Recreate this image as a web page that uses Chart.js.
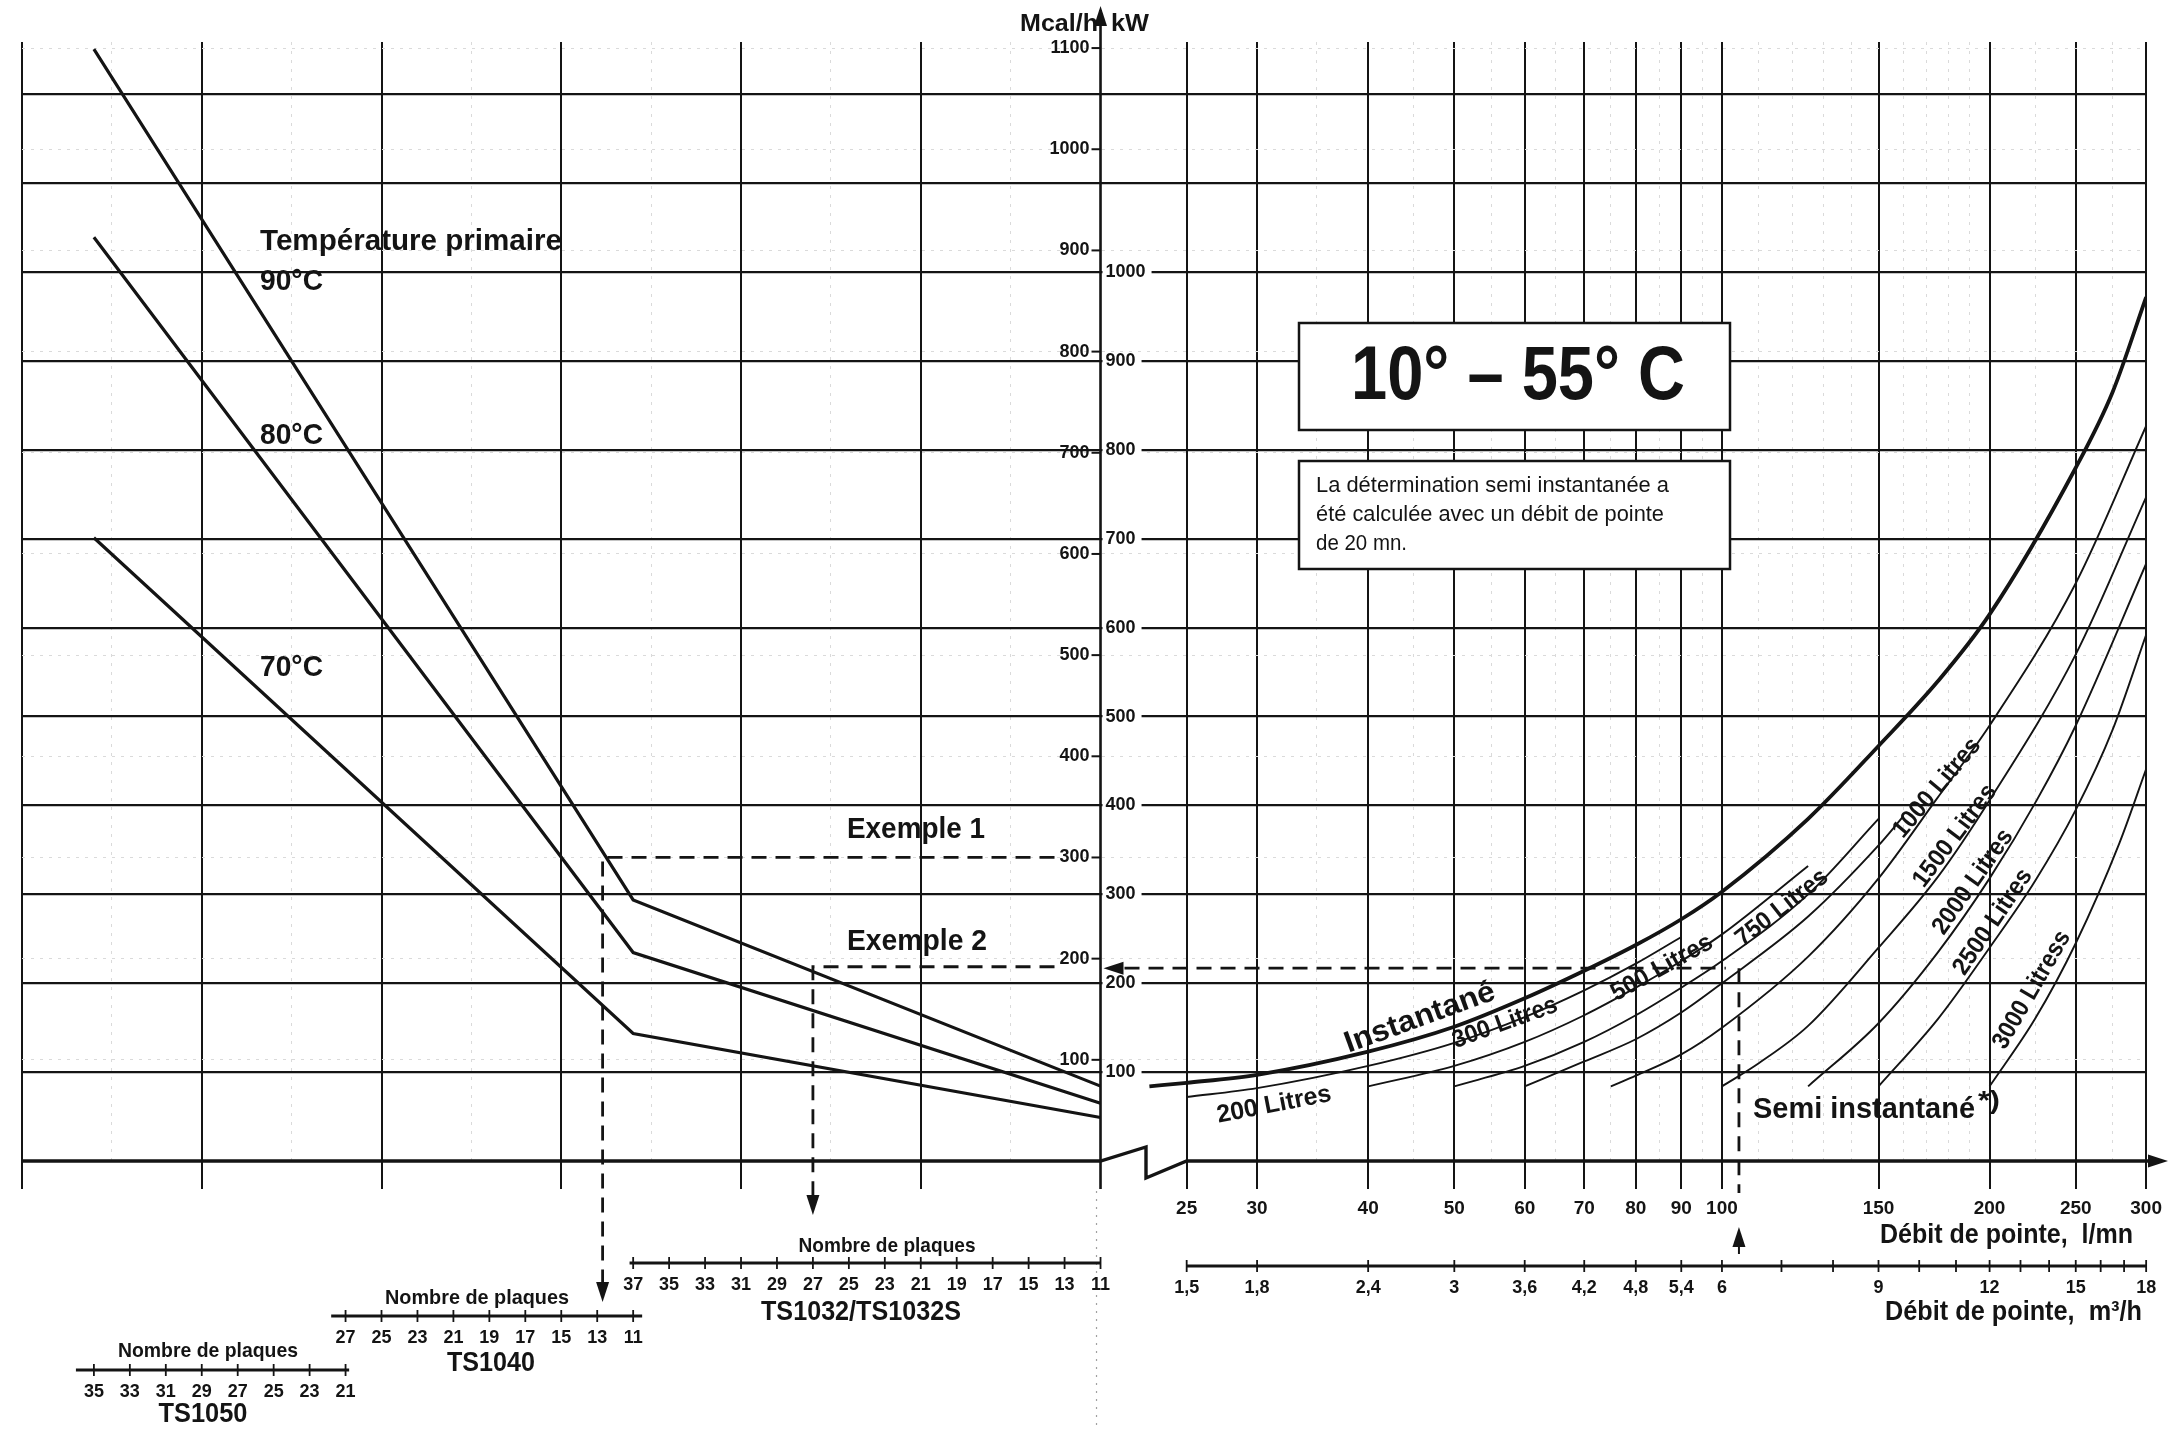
<!DOCTYPE html>
<html lang="fr">
<head>
<meta charset="utf-8">
<title>Abaque 10° – 55° C</title>
<script src="https://cdn.jsdelivr.net/npm/chart.js@4.4.1/dist/chart.umd.min.js"></script>
<style>
  html, body { margin: 0; padding: 0; background: #fff; }
  #wrap { position: relative; width: 2170px; height: 1432px; }
  canvas { display: block; }
</style>
</head>
<body>
<div id="wrap"><canvas id="abaque" width="2170" height="1432"></canvas></div>
<script>
// --- côté gauche : abscisse en plaques TS1032 (11 = axe central), ordonnée en Mcal/h
const primU = [67, 37, 11];
const prim90 = [1099, 258, 74];
const prim80 = [913, 206, 57];
const prim70 = [616, 126, 43];

const gridU = [21, 31, 41, 51, 61, 71];
const fineU = [16, 26, 36, 46, 56, 66];

const ts1032 = [37, 35, 33, 31, 29, 27, 25, 23, 21, 19, 17, 15, 13, 11];
const ts1040 = [27, 25, 23, 21, 19, 17, 15, 13, 11];
const ts1050 = [35, 33, 31, 29, 27, 25, 23, 21];

const mcalTicks = [100, 200, 300, 400, 500, 600, 700, 800, 900, 1000, 1100];
const kwTicks = [100, 200, 300, 400, 500, 600, 700, 800, 900, 1000];
const kwGrid = [0, 100, 200, 300, 400, 500, 600, 700, 800, 900, 1000, 1100, 1200];

// --- côté droit : débit de pointe (l/mn, échelle log), puissance en kW
const debitLmn = [25, 30, 40, 50, 60, 70, 80, 90, 100, 150, 200, 250, 300];
const debitM3h = ['1,5', '1,8', '2,4', '3', '3,6', '4,2', '4,8', '5,4', '6', '9', '12', '15', '18'];
const m3hFine = [7, 8, 10, 11, 13, 14, 16, 17];
const debitFine = [35, 45, 55, 65, 75, 85, 95, 110, 120, 130, 140, 160, 170, 180, 190, 225, 275];

const instQ = [22.7, 25, 30, 40, 50, 60, 70, 80, 90, 100, 125, 150, 175, 200, 250, 275, 300];
const instKW = [84, 88, 97, 123, 151, 183, 214, 243, 272, 303, 385, 467, 540, 615, 780, 865, 972];

const q200 = [25, 30, 40, 50, 60, 70, 80, 90];
const p200 = [72, 82, 107, 133, 162, 192, 222, 252];
const q300 = [40, 50, 60, 70, 80, 90, 100, 125];
const p300 = [84, 107, 134, 164, 195, 225, 255, 332];
const q500 = [50, 60, 70, 80, 90, 100, 125, 150];
const p500 = [84, 107, 134, 164, 195, 225, 300, 385];
const q750 = [60, 70, 80, 90, 100, 125, 150, 160];
const p750 = [84, 112, 137, 167, 200, 275, 355, 388];
const q1000 = [75, 80, 90, 100, 125, 150, 174, 200, 250, 300];
const p1000 = [84, 96, 120, 150, 230, 318, 406, 490, 650, 827];
const q1500 = [100, 110, 125, 150, 175, 200, 250, 300];
const p1500 = [84, 110, 152, 240, 320, 406, 570, 747];
const q2000 = [125, 150, 175, 200, 226, 250, 300];
const p2000 = [84, 155, 235, 318, 406, 490, 672];
const q2500 = [150, 175, 200, 225, 250, 275, 300];
const p2500 = [84, 160, 240, 315, 395, 485, 592];
const q3000 = [200, 225, 250, 280, 300];
const p3000 = [84, 160, 245, 358, 441];

const exemple1 = { u: 38.7, mcal: 300 };
const exemple2 = { u: 27, mcal: 192, q: 104.5, qStop: 101, kw: 217 };

const INK = '#141414';
const FAINT = '#dadada';
const FONT = '"Liberation Sans", Arial, Helvetica, sans-serif';

const pts = (xs, ys) => xs.map((x, i) => ({ x, y: ys[i] }));
const setTicks = (vals) => (scale) => { scale.ticks = vals.map((v) => ({ value: v })); };
const fixHeight = (h) => (scale) => { scale.height = h; };
const noWidth = (scale) => { scale.width = 0; };

const leftLine = (vals) => ({
  data: pts(primU, vals), xAxisID: 'xl', yAxisID: 'yM',
  borderColor: INK, borderWidth: 3.2, pointRadius: 0, tension: 0
});
const rightLine = (qs, ps, width) => ({
  data: pts(qs, ps), xAxisID: 'xr', yAxisID: 'y',
  borderColor: INK, borderWidth: width, pointRadius: 0, cubicInterpolationMode: 'monotone'
});

function fitText(ctx, text, x, y, w, size, opts = {}) {
  const { weight = 'bold', align = 'left', angle = 0 } = opts;
  ctx.save();
  ctx.font = `${weight} ${size}px ${FONT}`;
  const m = ctx.measureText(text).width;
  ctx.translate(x, y);
  if (angle) ctx.rotate(angle * Math.PI / 180);
  ctx.scale(w / m, 1);
  ctx.textAlign = align;
  ctx.textBaseline = 'middle';
  ctx.fillStyle = INK;
  ctx.fillText(text, 0, 0);
  ctx.restore();
}

function arrow(ctx, x, y, dir) {
  // pointe en (x, y)
  const L = 20, H = 6.5;
  ctx.beginPath();
  ctx.moveTo(x, y);
  if (dir === 'down') { ctx.lineTo(x - H, y - L); ctx.lineTo(x + H, y - L); }
  if (dir === 'up') { ctx.lineTo(x - H, y + L); ctx.lineTo(x + H, y + L); }
  if (dir === 'left') { ctx.lineTo(x + L, y - H); ctx.lineTo(x + L, y + H); }
  if (dir === 'right') { ctx.lineTo(x - L, y - H); ctx.lineTo(x - L, y + H); }
  ctx.closePath();
  ctx.fill();
}

const notes = [
  ['Mcal/h', 1020, 24, 78, 24],
  ['kW', 1111, 24, 38, 24],
  ['Température primaire', 260, 242, 302, 30],
  ['90°C', 260, 282, 63, 30],
  ['80°C', 260, 436, 63, 30],
  ['70°C', 260, 668, 63, 30],
  ['Exemple 1', 847, 830, 138, 30],
  ['Exemple 2', 847, 942, 140, 30],
  ['Semi instantané', 1753, 1110, 222, 30],
  ['*)', 1978, 1102, 22, 26],
  ['Débit de pointe,  l/mn', 1880, 1235, 253, 28],
  ['Débit de pointe,  m³/h', 1885, 1312, 257, 28]
];

const curveNotes = [
  ['Instantané', 1420, 1018, 158, 30, -20],
  ['200 Litres', 1274, 1105, 116, 25, -11],
  ['300 Litres', 1505, 1023, 110, 25, -20],
  ['500 Litres', 1662, 968, 112, 25, -29],
  ['750 Litres', 1782, 908, 110, 25, -38],
  ['1000 Litres', 1937, 788, 122, 25, -50],
  ['1500 Litres', 1955, 836, 122, 25, -53],
  ['2000 Litres', 1973, 882, 122, 25, -55],
  ['2500 Litres', 1993, 922, 122, 25, -56],
  ['3000 Litress', 2032, 990, 132, 25, -60]
];

const plateScales = [
  { plates: ts1032, offset: 0, from: 37.2, to: 11, lineY: 1263,
    title: [887, 1246, 177], name: ['TS1032/TS1032S', 861, 1312, 200] },
  { plates: ts1040, offset: 26, from: 53.8, to: 36.5, lineY: 1316,
    title: [477, 1298, 184], name: ['TS1040', 491, 1363, 88] },
  { plates: ts1050, offset: 32, from: 68, to: 52.8, lineY: 1370,
    title: [208, 1351, 180], name: ['TS1050', 203, 1414, 89] }
];

const abaquePlugin = {
  id: 'abaque',
  afterDatasetsDraw(chart) {
    const { ctx, scales } = chart;
    const { xl, xr, y, yM } = scales;
    const axisX = xr.getPixelForValue(20);
    const y0 = y.getPixelForValue(0);

    ctx.save();
    ctx.strokeStyle = INK;
    ctx.fillStyle = INK;

    // ligne de base gauche, rupture, axe des débits
    ctx.lineWidth = 3.4;
    ctx.beginPath();
    ctx.moveTo(xl.getPixelForValue(71), y0);
    ctx.lineTo(axisX, y0);
    ctx.lineTo(xr.getPixelForValue(22.5), y0 - 14);
    ctx.lineTo(xr.getPixelForValue(22.5), y0 + 17);
    ctx.lineTo(xr.getPixelForValue(25), y0);
    ctx.lineTo(xr.getPixelForValue(300) + 4, y0);
    ctx.stroke();
    arrow(ctx, 2168, y0, 'right');

    // axe central
    ctx.lineWidth = 2.6;
    ctx.beginPath();
    ctx.moveTo(axisX, 10);
    ctx.lineTo(axisX, y0 + 28);
    ctx.stroke();
    arrow(ctx, axisX, 6, 'up');
    ctx.save();
    ctx.strokeStyle = '#a0a0a0';
    ctx.lineWidth = 1.2;
    ctx.setLineDash([2, 6]);
    ctx.beginPath();
    ctx.moveTo(axisX - 4, y0 + 30);
    ctx.lineTo(axisX - 4, 1428);
    ctx.stroke();
    ctx.restore();

    // graduations Mcal/h (à gauche de l'axe) et kW (à droite)
    ctx.lineWidth = 2;
    ctx.font = `bold 18px ${FONT}`;
    ctx.textBaseline = 'middle';
    mcalTicks.forEach((v) => {
      const py = yM.getPixelForValue(v);
      ctx.beginPath();
      ctx.moveTo(axisX - 9, py);
      ctx.lineTo(axisX, py);
      ctx.stroke();
      ctx.textAlign = 'right';
      ctx.fillText(String(v), axisX - 11, py);
    });
    kwTicks.forEach((v) => {
      const py = y.getPixelForValue(v);
      const w = ctx.measureText(String(v)).width;
      ctx.fillStyle = '#fff';
      ctx.fillRect(axisX + 2, py - 9, w + 9, 18);
      ctx.fillStyle = INK;
      ctx.textAlign = 'left';
      ctx.fillText(String(v), axisX + 5, py);
    });

    // exemples (tirets)
    ctx.lineWidth = 2.8;
    ctx.setLineDash([15, 9]);
    const e1x = xl.getPixelForValue(exemple1.u);
    const e1y = yM.getPixelForValue(exemple1.mcal);
    ctx.beginPath();
    ctx.moveTo(axisX - 46, e1y);
    ctx.lineTo(e1x, e1y);
    ctx.lineTo(e1x, 1282);
    ctx.stroke();
    const e2x = xl.getPixelForValue(exemple2.u);
    const e2y = yM.getPixelForValue(exemple2.mcal);
    ctx.beginPath();
    ctx.moveTo(axisX - 46, e2y);
    ctx.lineTo(e2x, e2y);
    ctx.lineTo(e2x, 1195);
    ctx.stroke();
    const e2qx = xr.getPixelForValue(exemple2.q);
    const e2ky = y.getPixelForValue(exemple2.kw);
    ctx.beginPath();
    ctx.moveTo(axisX + 24, e2ky);
    ctx.lineTo(xr.getPixelForValue(exemple2.qStop), e2ky);
    ctx.moveTo(e2qx, e2ky);
    ctx.lineTo(e2qx, y0 + 32);
    ctx.stroke();
    ctx.setLineDash([]);
    arrow(ctx, e1x, 1302, 'down');
    arrow(ctx, e2x, 1215, 'down');
    arrow(ctx, axisX + 3, e2ky, 'left');
    arrow(ctx, e2qx, 1227, 'up');
    ctx.lineWidth = 2;
    ctx.beginPath();
    ctx.moveTo(e2qx, 1245);
    ctx.lineTo(e2qx, 1254);
    ctx.stroke();

    // échelle m3/h
    ctx.lineWidth = 3;
    const m3y = 1266;
    ctx.beginPath();
    ctx.moveTo(xr.getPixelForValue(25), m3y);
    ctx.lineTo(xr.getPixelForValue(300), m3y);
    ctx.stroke();
    ctx.lineWidth = 1.8;
    const m3Pos = debitLmn.concat(m3hFine.map((m) => m * 1000 / 60));
    m3Pos.forEach((q) => {
      const px = xr.getPixelForValue(q);
      ctx.beginPath();
      ctx.moveTo(px, m3y - 6);
      ctx.lineTo(px, m3y + 6);
      ctx.stroke();
    });
    ctx.font = `bold 18px ${FONT}`;
    ctx.textAlign = 'center';
    debitLmn.forEach((q, i) => {
      ctx.fillText(debitM3h[i], xr.getPixelForValue(q), 1288);
    });

    // échelles "Nombre de plaques"
    plateScales.forEach((s) => {
      ctx.lineWidth = 3;
      ctx.beginPath();
      ctx.moveTo(xl.getPixelForValue(s.from), s.lineY);
      ctx.lineTo(xl.getPixelForValue(s.to), s.lineY);
      ctx.stroke();
      ctx.lineWidth = 1.8;
      ctx.font = `bold 18px ${FONT}`;
      ctx.textAlign = 'center';
      s.plates.forEach((p) => {
        const px = xl.getPixelForValue(p + s.offset);
        ctx.beginPath();
        ctx.moveTo(px, s.lineY - 6);
        ctx.lineTo(px, s.lineY + 6);
        ctx.stroke();
        ctx.fillText(String(p), px, s.lineY + 22);
      });
      fitText(ctx, 'Nombre de plaques', s.title[0], s.title[1], s.title[2], 21, { align: 'center' });
      fitText(ctx, s.name[0], s.name[1], s.name[2], s.name[3], 28, { align: 'center' });
    });

    // cartouches
    ctx.lineWidth = 2.5;
    [[1299, 323, 431, 107], [1299, 461, 431, 108]].forEach(([bx, by, bw, bh]) => {
      ctx.fillStyle = '#fff';
      ctx.fillRect(bx, by, bw, bh);
      ctx.strokeRect(bx, by, bw, bh);
    });
    ctx.fillStyle = INK;
    fitText(ctx, '10° – 55° C', 1518, 378, 334, 76, { align: 'center' });
    fitText(ctx, 'La détermination semi instantanée a', 1316, 486, 353, 22, { weight: 'normal' });
    fitText(ctx, 'été calculée avec un débit de pointe', 1316, 515, 348, 22, { weight: 'normal' });
    fitText(ctx, 'de 20 mn.', 1316, 544, 91, 22, { weight: 'normal' });

    notes.forEach(([t, x, yy, w, size]) => fitText(ctx, t, x, yy, w, size));
    curveNotes.forEach(([t, x, yy, w, size, a]) => fitText(ctx, t, x, yy, w, size, { align: 'center', angle: a }));

    ctx.restore();
  }
};

new Chart(document.getElementById('abaque'), {
  type: 'line',
  data: {
    datasets: [
      leftLine(prim90),
      leftLine(prim80),
      leftLine(prim70),
      rightLine(instQ, instKW, 3.8),
      rightLine(q200, p200, 1.9),
      rightLine(q300, p300, 1.9),
      rightLine(q500, p500, 1.9),
      rightLine(q750, p750, 1.9),
      rightLine(q1000, p1000, 1.9),
      rightLine(q1500, p1500, 1.9),
      rightLine(q2000, p2000, 1.9),
      rightLine(q2500, p2500, 1.9),
      rightLine(q3000, p3000, 1.9)
    ]
  },
  options: {
    responsive: false,
    animation: false,
    devicePixelRatio: 1,
    layout: { padding: { left: 22, right: 23, top: 42, bottom: 191 } },
    plugins: { legend: { display: false }, tooltip: { enabled: false } },
    scales: {
      xl: {
        type: 'linear', axis: 'x', position: 'bottom', reverse: true, weight: 0,
        min: -47.17, max: 71, bounds: 'data',
        afterBuildTicks: setTicks(gridU), afterFit: fixHeight(0),
        ticks: { display: false },
        grid: { color: INK, lineWidth: 2, tickLength: 28, tickWidth: 2, tickColor: INK },
        border: { display: false }
      },
      xr: {
        type: 'logarithmic', axis: 'x', position: 'bottom', weight: 1,
        min: 1.2245, max: 300, bounds: 'data',
        afterBuildTicks: setTicks(debitLmn), afterFit: fixHeight(80),
        ticks: {
          callback: (v) => String(v), color: INK, padding: 8,
          autoSkip: false, maxRotation: 0, minRotation: 0,
          font: { family: FONT, size: 19, weight: 'bold' }
        },
        grid: { color: INK, lineWidth: 2, tickLength: 28, tickWidth: 2, tickColor: INK },
        border: { display: false }
      },
      xlFine: {
        type: 'linear', axis: 'x', position: 'bottom', reverse: true, z: -1, weight: 2,
        min: -47.17, max: 71, bounds: 'data',
        afterBuildTicks: setTicks(fineU), afterFit: fixHeight(0),
        ticks: { display: false },
        grid: { color: FAINT, lineWidth: 1, drawTicks: false },
        border: { display: false, dash: [3, 6] }
      },
      xrFine: {
        type: 'logarithmic', axis: 'x', position: 'bottom', z: -1, weight: 3,
        min: 1.2245, max: 300, bounds: 'data',
        afterBuildTicks: setTicks(debitFine), afterFit: fixHeight(0),
        ticks: { display: false },
        grid: { color: FAINT, lineWidth: 1, drawTicks: false },
        border: { display: false, dash: [3, 6] }
      },
      y: {
        type: 'linear', axis: 'y', position: 'left',
        min: 0, max: 1259, bounds: 'data',
        afterBuildTicks: setTicks(kwGrid), afterFit: noWidth,
        ticks: { display: false },
        grid: {
          color: (c) => (c.tick && c.tick.value === 0 ? 'rgba(0,0,0,0)' : INK),
          lineWidth: 2.2, drawTicks: false
        },
        border: { display: false }
      },
      yM: {
        type: 'linear', axis: 'y', position: 'right', z: -1,
        min: 0, max: 1106, bounds: 'data',
        afterBuildTicks: setTicks(mcalTicks), afterFit: noWidth,
        ticks: { display: false },
        grid: { color: FAINT, lineWidth: 1, drawTicks: false },
        border: { display: false, dash: [3, 6] }
      }
    }
  },
  plugins: [abaquePlugin]
});
</script>
</body>
</html>
